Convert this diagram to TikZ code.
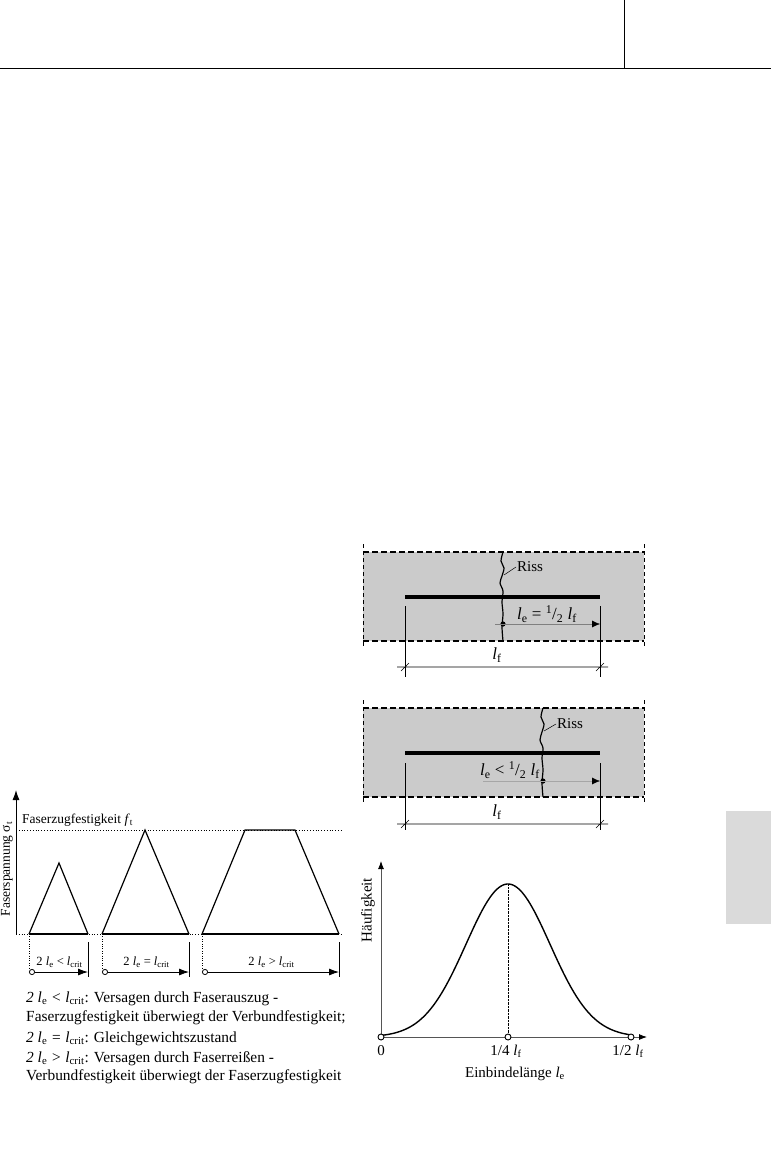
\documentclass[tikz,border=0pt]{standalone}
\usepackage{fontspec}
\setmainfont{Liberation Serif}
\usetikzlibrary{arrows.meta,positioning}
\definecolor{Matrix}{HTML}{CBCBCB}
\definecolor{Tab}{HTML}{DADADA}
\definecolor{Axis}{HTML}{555555}
\newcommand{\lsub}[1]{\textit{l}\textsubscript{\upshape #1}}
\newcommand{\half}{\textsuperscript{1}/\textsubscript{2}}

\begin{document}
\begin{tikzpicture}[x=1pt,y=-1pt,>=Latex,
  every node/.style={font=\fontsize{15}{19}\selectfont,inner sep=1pt},
  note/.style={anchor=base west,font=\fontsize{15.4}{19}\selectfont},
  lbl/.style={font=\fontsize{12.5}{15}\selectfont},
  big/.style={font=\fontsize{17}{20}\selectfont},
  edge/.style={line width=1.1pt,dash pattern=on 6pt off 3pt},
  side/.style={line width=0.5pt,dash pattern=on 4pt off 3pt},
  fibre/.style={line width=4pt},
  crack/.style={line width=1.2pt},
  span/.style={line width=0.8pt,{Circle[open,length=6pt,fill=white]}-{Latex[length=10pt,width=7pt]}}]
\useasboundingbox (0,0) rectangle (771,1151);
% page header and tab
\draw[line width=0.9pt] (0,68) -- (771,68);
\draw[line width=0.8pt] (624,0) -- (624,68);
\fill[Tab] (726,811) rectangle (771,924);

% left: stress along the fibre
\draw[line width=1pt,-{Latex[length=10pt,width=7pt]}] (16,934) -- (16,790);
\node (ylab) [rotate=90,font=\fontsize{13.5}{15}\selectfont] at (7,869) {Faserspannung σ\textsubscript{t}};
\draw[line width=0.8pt,dotted] (16,830) -- (342,830);
\draw[line width=0.8pt,dotted] (16,934) -- (342,934);
\node (ft) [anchor=base west,font=\fontsize{13.5}{15}\selectfont] at (21,823) {Faserzugfestigkeit \textit{f}\textsubscript{t}};
\draw[line width=1.2pt] (29,934) -- (59,863) -- (88,934);
\draw[line width=1.2pt] (102,934) -- (145,830) -- (189,934);
\draw[line width=1.2pt] (202,934) -- (245,830) -- (295,830) -- (339,934);
\draw[line width=2.5pt] (29,934) -- (88,934) (102,934) -- (189,934) (202,934) -- (339,934);
\foreach \a/\b/\t in {29/88/<, 102/189/=, 202/339/>}{
  \draw[dotted] (\a,934) -- (\a,969);
  \draw[line width=0.5pt] (\b,942) -- (\b,977);
  \draw[span] (\a,972) -- (\b,972);
  \node[lbl] at ({(\a+\b)/2+1},962) {2 \lsub{e} \t{} \lsub{crit}};
}
\node (n1) [note] at (25,1002) {\textit{2 \lsub{e} < \lsub{crit}}: Versagen durch Faserauszug -};
\node (n2) [note] at (25,1021) {Faserzugfestigkeit überwiegt der Verbundfestigkeit;};
\node (n3) [note] at (25,1042) {\textit{2 \lsub{e} = \lsub{crit}}: Gleichgewichtszustand};
\node (n4) [note] at (25,1062) {\textit{2 \lsub{e} > \lsub{crit}}: Versagen durch Faserreißen -};
\node (n5) [note] at (25,1080) {Verbundfestigkeit überwiegt der Faserzugfestigkeit};

% right top: crack at the fibre centre
\fill[Matrix] (363,552) rectangle (644,641);
\draw[edge] (363,552) -- (644,552) (363,641) -- (644,641);
\draw[side] (363,544) -- (363,648) (644,544) -- (644,648);
\draw[fibre] (405,597) -- (600,597);
\draw[crack] plot[smooth] coordinates {(503,552) (501,561) (504,568) (502,576) (500,583) (503,591) (502,602) (503,614) (502,627) (503,641)};
\node (riss1) [anchor=west] at (516,567) {Riss};
\draw[line width=0.5pt] (504,575) -- (riss1.west);
\coordinate (m1) at (503,624);
\fill (m1) circle (2.6);
\draw[gray,line width=0.4pt,-{Latex[black,length=8pt,width=7pt]}] (495,624) -- (600,624);
\node (le1) [big] at (547,614) {\lsub{e} = \half{} \lsub{f}};
\draw[line width=0.6pt] (405,606) -- (405,677) (600,606) -- (600,677);
\draw[line width=0.6pt] (397,667) -- (608,667) (401,671) -- (409,663) (596,671) -- (604,663);
\node (lf1) [big] at (497,655) {\lsub{f}};

% right middle: crack off centre
\fill[Matrix] (363,708) rectangle (644,797);
\draw[edge] (363,708) -- (644,708) (363,797) -- (644,797);
\draw[side] (363,700) -- (363,804) (644,700) -- (644,804);
\draw[fibre] (405,753) -- (600,753);
\draw[crack] plot[smooth] coordinates {(543,708) (541,717) (544,724) (542,732) (540,740) (543,748) (542,758) (543,770) (542,783) (543,797)};
\node (riss2) [anchor=west] at (556,724) {Riss};
\draw[line width=0.5pt] (544,731) -- (riss2.west);
\coordinate (m2) at (543,781);
\fill (m2) circle (2.6);
\draw[gray!70,line width=0.4pt,-{Latex[black,length=8pt,width=7pt]}] (483,781) -- (600,781);
\node (le2) [big] at (510,770) {\lsub{e} < \half{} \lsub{f}};
\draw[line width=0.6pt] (405,763) -- (405,830) (600,763) -- (600,830);
\draw[line width=0.6pt] (397,824) -- (608,824) (401,828) -- (409,820) (596,828) -- (604,820);
\node (lf2) [big] at (497,812) {\lsub{f}};

% right bottom: frequency of the embedded length
\draw[Axis,line width=0.9pt,-{Latex[black,length=8pt,width=6pt]}] (381,1037) -- (381,861);
\draw[Axis,line width=0.9pt,-{Latex[black,length=8pt,width=6pt]}] (381,1037) -- (647,1037);
\node (hf) [rotate=90] at (368,910) {Häufigkeit};
\draw[line width=0.4pt,densely dotted] (508,884) -- (508,1037);
\draw[line width=1.4pt] plot[domain=381:631,samples=120] (\x,{1037-153*exp(-0.5*((\x-508)/42)^2)});
\foreach \p in {381,508,631} \draw[line width=0.9pt,fill=white] (\p,1037) circle (3);
\node (x0) at (381,1051) {0};
\node (x1) at (506,1051) {1/4 \lsub{f}};
\node (x2) at (628,1051) {1/2 \lsub{f}};
\node (xlab) at (515,1074) {Einbindelänge \lsub{e}};
\end{tikzpicture}
\end{document}
